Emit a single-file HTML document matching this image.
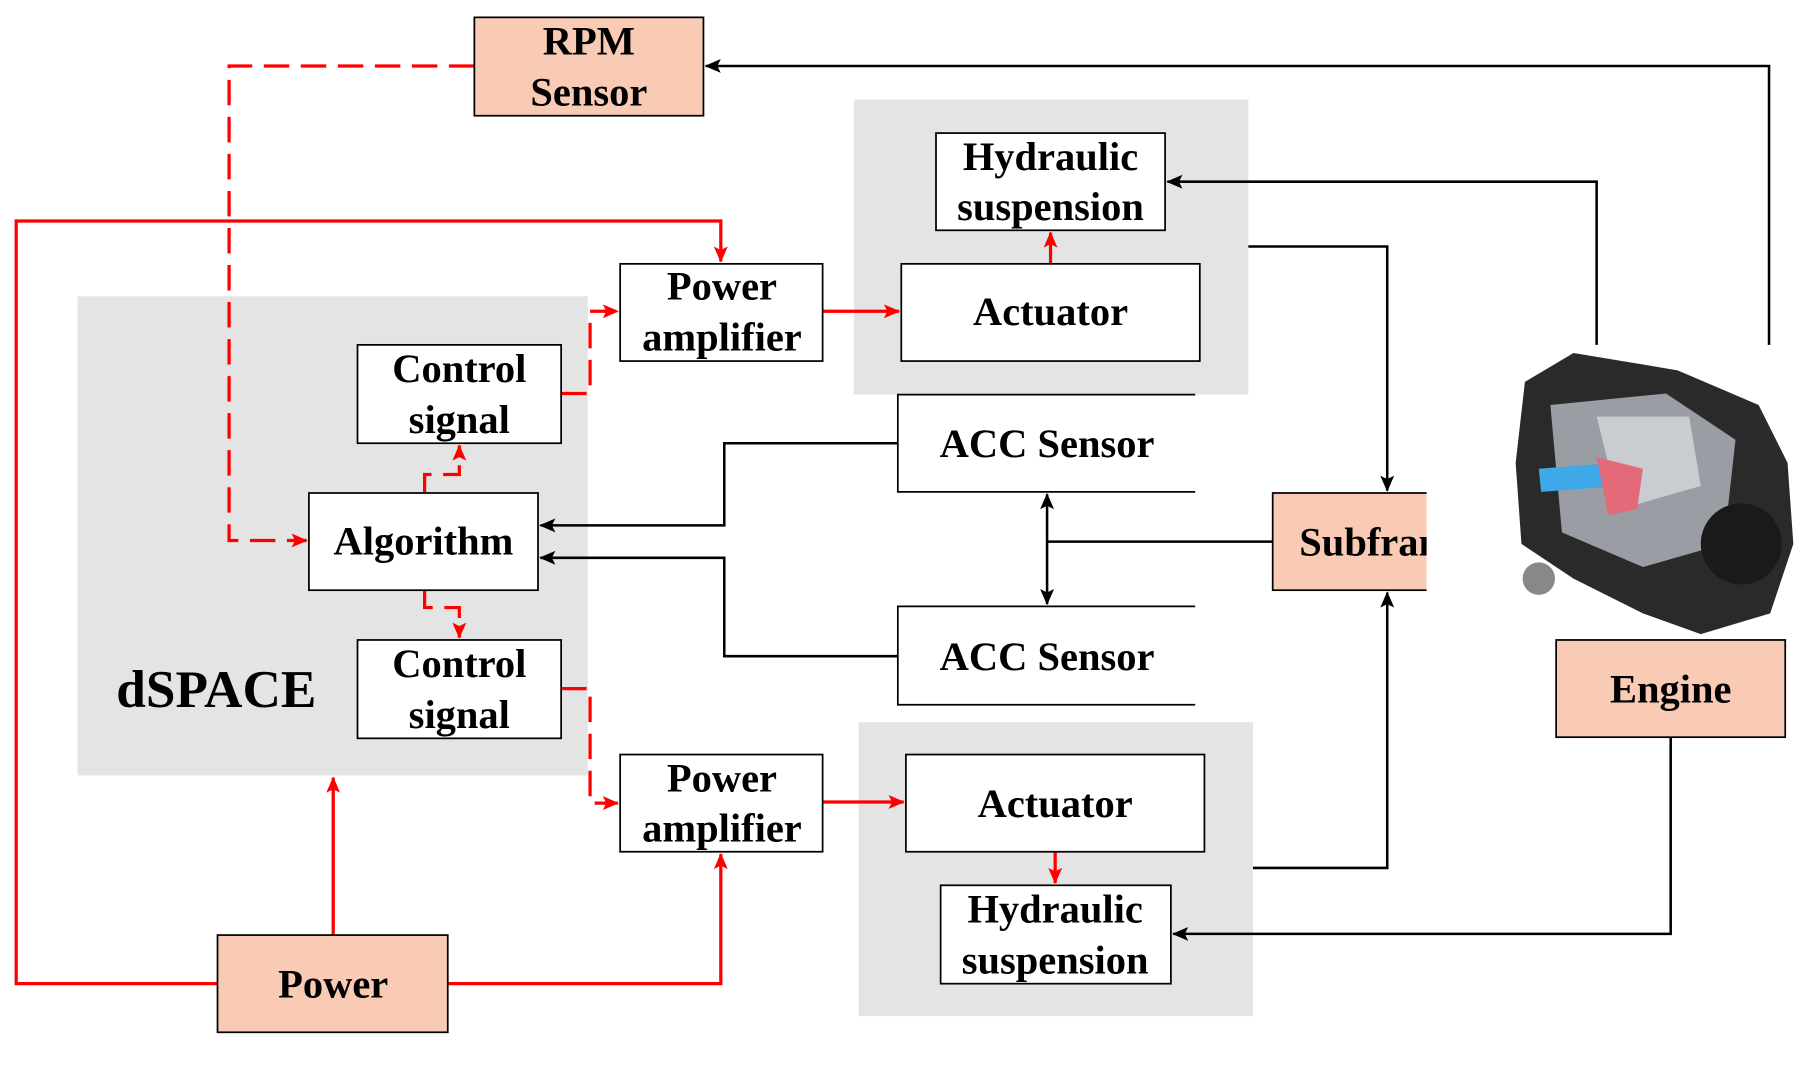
<!DOCTYPE html>
<html><head><style>html,body{margin:0;padding:0;background:#fff}svg{display:block}</style></head><body>
<svg width="1813" height="1067" viewBox="0 0 1567 922" preserveAspectRatio="none" xmlns="http://www.w3.org/2000/svg" font-family="Liberation Serif, serif" font-weight="bold">
<defs>
<marker id="ab" markerWidth="14" markerHeight="12" refX="13" refY="6" orient="auto" markerUnits="userSpaceOnUse"><path d="M0,0 L14,6 L0,12 L3,6 z" fill="#000"/></marker>
<marker id="ar" markerWidth="14" markerHeight="12" refX="13" refY="6" orient="auto" markerUnits="userSpaceOnUse"><path d="M0,0 L14,6 L0,12 L3,6 z" fill="#f00"/></marker>
</defs>
<rect x="738" y="86" width="341" height="255" fill="#e4e4e4"/>
<rect x="742" y="624" width="341" height="254" fill="#e4e4e4"/>
<rect x="67" y="256" width="441" height="414" fill="#e4e4e4"/>
<g stroke="#000" stroke-width="2.2" fill="none">
<polyline points="1529,298 1529,57 610,57" marker-end="url(#ab)"/>
<polyline points="1380,298 1380,157 1009,157" marker-end="url(#ab)"/>
<polyline points="1079,213 1199,213 1199,424" marker-end="url(#ab)"/>
<polyline points="1083,750 1199,750 1199,512" marker-end="url(#ab)"/>
<polyline points="1444,637 1444,807 1014,807" marker-end="url(#ab)"/>
<line x1="1100" y1="468" x2="905" y2="468"/>
<line x1="905" y1="468" x2="905" y2="427" marker-end="url(#ab)"/>
<line x1="905" y1="468" x2="905" y2="522" marker-end="url(#ab)"/>
<polyline points="776,383 626,383 626,454 467,454" marker-end="url(#ab)"/>
<polyline points="776,567 626,567 626,482 467,482" marker-end="url(#ab)"/>
</g>
<g stroke="#f00" stroke-width="2.8" fill="none">
<polyline points="188,850 14,850 14,191 623,191 623,226" marker-end="url(#ar)"/>
<polyline points="387,850 623,850 623,738" marker-end="url(#ar)"/>
<line x1="288" y1="808" x2="288" y2="672" marker-end="url(#ar)"/>
<line x1="711" y1="269" x2="777" y2="269" marker-end="url(#ar)"/>
<line x1="711" y1="693" x2="781" y2="693" marker-end="url(#ar)"/>
<line x1="908" y1="228" x2="908" y2="201" marker-end="url(#ar)"/>
<line x1="912" y1="736" x2="912" y2="763" marker-end="url(#ar)"/>
</g>
<g stroke="#f00" stroke-width="2.8" fill="none" stroke-dasharray="22,10">
<polyline points="410,57 198,57 198,467 265,467" marker-end="url(#ar)"/>
<polyline points="485,340 510,340 510,269 534,269" marker-end="url(#ar)"/>
<polyline points="367,426 367,410 397,410 397,385" marker-end="url(#ar)"/>
<polyline points="367,510 367,525 397,525 397,551" marker-end="url(#ar)"/>
<polyline points="485,595 510,595 510,694 534,694" marker-end="url(#ar)"/>
</g>
<g stroke="#000" stroke-width="1.5">
<rect x="410" y="15" width="198" height="85" fill="#f9cbb5"/>
<rect x="809" y="115" width="198" height="84" fill="#fff"/>
<rect x="779" y="228" width="258" height="84" fill="#fff"/>
<rect x="536" y="228" width="175" height="84" fill="#fff"/>
<rect x="309" y="298" width="176" height="85" fill="#fff"/>
<rect x="267" y="426" width="198" height="84" fill="#fff"/>
<rect x="309" y="553" width="176" height="85" fill="#fff"/>
<rect x="536" y="652" width="175" height="84" fill="#fff"/>
<rect x="783" y="652" width="258" height="84" fill="#fff"/>
<rect x="813" y="765" width="199" height="85" fill="#fff"/>
<rect x="188" y="808" width="199" height="84" fill="#f9cbb5"/>
<rect x="1345" y="553" width="198" height="84" fill="#f9cbb5"/>
</g>
<rect x="776" y="341" width="257" height="84" fill="#fff"/>
<path d="M1033,341 H776 V425 H1033" stroke="#000" stroke-width="1.5" fill="none"/>
<rect x="776" y="524" width="257" height="85" fill="#fff"/>
<path d="M1033,524 H776 V609 H1033" stroke="#000" stroke-width="1.5" fill="none"/>
<svg x="1099" y="425" width="134" height="86" overflow="hidden">
<rect x="1" y="1" width="150" height="84" fill="#f9cbb5" stroke="#000" stroke-width="1.5"/>
<text x="24" y="55" font-size="35">Subframe</text>
</svg>
<g>
<path d="M1318,330 L1360,305 L1450,320 L1520,350 L1545,400 L1550,470 L1530,530 L1470,548 L1420,530 L1360,500 L1315,470 L1310,400 Z" fill="#2a2a2a"/>
<path d="M1340,350 L1440,340 L1500,380 L1490,470 L1420,490 L1350,460 Z" fill="#9a9ea4"/>
<path d="M1380,360 L1460,360 L1470,420 L1400,440 Z" fill="#c9ccd0"/>
<path d="M1330,405 L1395,400 L1400,420 L1332,425 Z" fill="#3fa8e8"/>
<path d="M1380,395 L1420,405 L1415,440 L1390,445 Z" fill="#e46a7a"/>
<circle cx="1505" cy="470" r="35" fill="#1a1a1a"/>
<circle cx="1330" cy="500" r="14" fill="#888"/>
</g>
<g font-size="35" text-anchor="middle" fill="#000">
<text x="509" y="47">RPM</text><text x="509" y="91">Sensor</text>
<text x="908" y="147">Hydraulic</text><text x="908" y="190">suspension</text>
<text x="908" y="281">Actuator</text>
<text x="624" y="259">Power</text><text x="624" y="303">amplifier</text>
<text x="397" y="330">Control</text><text x="397" y="374">signal</text>
<text x="366" y="479">Algorithm</text>
<text x="397" y="585">Control</text><text x="397" y="629">signal</text>
<text x="905" y="395">ACC Sensor</text>
<text x="905" y="579">ACC Sensor</text>
<text x="624" y="684">Power</text><text x="624" y="727">amplifier</text>
<text x="912" y="706">Actuator</text>
<text x="912" y="797">Hydraulic</text><text x="912" y="841">suspension</text>
<text x="288" y="862">Power</text>
<text x="1444" y="607">Engine</text>
<text x="187" y="611" font-size="46">dSPACE</text>
</g>
</svg>
</body></html>
